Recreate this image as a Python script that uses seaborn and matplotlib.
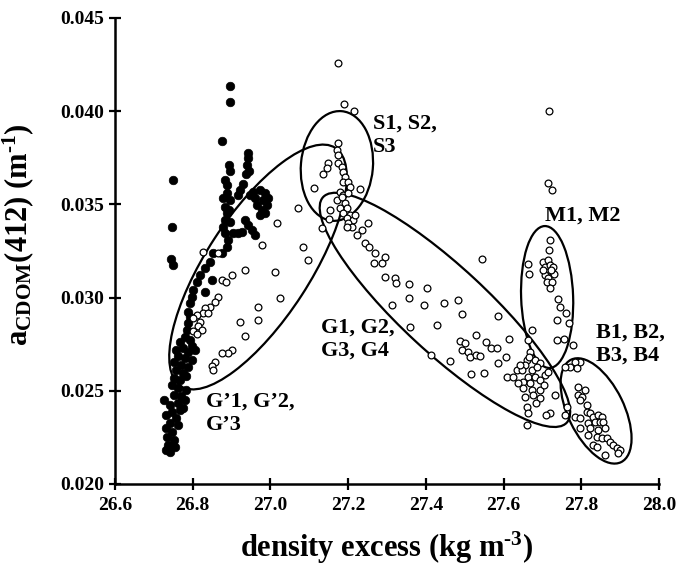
import matplotlib
matplotlib.use("Agg")
import matplotlib.pyplot as plt
from matplotlib.patches import Ellipse
from matplotlib.transforms import Affine2D
from matplotlib.ticker import FormatStrFormatter
import pandas as pd
import seaborn as sns

# ---- surface samples (filled circles) ----
surf_density = [
    26.896, 26.896, 26.875, 26.749, 26.747, 26.744, 26.749,
    26.942, 26.942, 26.940, 26.893, 26.896, 26.945, 26.937, 26.883, 26.888,
    26.929, 26.922, 26.917, 26.888, 26.878, 26.896, 26.883, 26.893, 26.888,
    26.883, 26.896, 26.878, 26.883, 26.891, 26.888, 26.875,
    26.955, 26.973, 26.986, 26.960, 26.981, 26.991, 26.965, 26.978, 26.986,
    26.973, 26.947, 26.994,
    26.935, 26.942, 26.953, 26.960, 26.927, 26.917, 26.904,
    26.852, 26.844, 26.832, 26.819, 26.811, 26.850, 26.801, 26.832, 26.798,
    26.793, 26.788, 26.793, 26.788, 26.785,
    26.780, 26.793, 26.767, 26.798, 26.775, 26.757, 26.788, 26.806, 26.762,
    26.780, 26.798, 26.752, 26.770, 26.788, 26.757, 26.775, 26.752, 26.767,
    26.783, 26.747, 26.762, 26.752, 26.770, 26.726, 26.742, 26.762, 26.775,
    26.747, 26.731, 26.757, 26.742, 26.762, 26.731, 26.747, 26.734, 26.752,
    26.736, 26.731, 26.742, 26.754, 26.767, 26.780, 26.783,
]
surf_acdom = [
    0.04135, 0.04049, 0.03840, 0.03631, 0.03379, 0.03207, 0.03175,
    0.03776, 0.03749, 0.03711, 0.03711, 0.03679, 0.03679, 0.03663, 0.03631, 0.03604,
    0.03610, 0.03577, 0.03550, 0.03561, 0.03534, 0.03524, 0.03486, 0.03470, 0.03454,
    0.03416, 0.03406, 0.03379, 0.03347, 0.03309, 0.03272, 0.03239,
    0.03567, 0.03577, 0.03561, 0.03534, 0.03524, 0.03497, 0.03497, 0.03470, 0.03454,
    0.03443, 0.03550, 0.03534,
    0.03416, 0.03390, 0.03363, 0.03336, 0.03352, 0.03347, 0.03347,
    0.03239, 0.03191, 0.03159, 0.03121, 0.03084, 0.03094, 0.03041, 0.03030, 0.03003,
    0.02971, 0.02923, 0.02896, 0.02864, 0.02826,
    0.02789, 0.02773, 0.02762, 0.02740, 0.02730, 0.02719, 0.02708, 0.02719, 0.02687,
    0.02676, 0.02665, 0.02655, 0.02638, 0.02628, 0.02612, 0.02596, 0.02569, 0.02558,
    0.02580, 0.02531, 0.02515, 0.02477, 0.02472, 0.02451, 0.02424, 0.02435, 0.02408,
    0.02386, 0.02370, 0.02354, 0.02327, 0.02317, 0.02300, 0.02279, 0.02252, 0.02236,
    0.02209, 0.02182, 0.02172, 0.02198, 0.02397, 0.02451, 0.02504,
]

# ---- deeper samples (open circles), grouped by water mass ----
gp_density = [
    26.826, 26.865, 26.875, 26.886, 26.901, 26.935, 27.012, 26.865, 26.857,
    26.844, 26.832, 26.826, 26.839, 26.811, 26.801, 26.819, 26.814, 26.824,
    26.801, 26.811, 27.025, 26.968, 26.968, 26.922, 26.935, 26.901, 26.891,
    26.875, 26.857, 26.850, 26.852, 26.978, 27.017, 27.071, 27.084, 27.097,
]
gp_acdom = [
    0.03245, 0.03239, 0.03094, 0.03084, 0.03121, 0.03148, 0.03137, 0.03003, 0.02976,
    0.02950, 0.02944, 0.02917, 0.02917, 0.02907, 0.02891, 0.02869, 0.02848, 0.02826,
    0.02821, 0.02805, 0.02998, 0.02950, 0.02880, 0.02869, 0.02794, 0.02719, 0.02703,
    0.02703, 0.02655, 0.02633, 0.02612, 0.03282, 0.03400, 0.03481, 0.03271, 0.03202,
]

s_density = [
    27.112, 27.135, 27.133, 27.151, 27.174, 27.189, 27.215, 27.174, 27.171,
    27.174, 27.148, 27.174, 27.146, 27.184, 27.187, 27.192, 27.187, 27.200,
    27.205, 27.230, 27.179, 27.187, 27.171, 27.192, 27.179, 27.197, 27.187,
    27.205, 27.197, 27.212, 27.153, 27.200, 27.210, 27.197, 27.200, 27.184,
    27.218,
]
s_acdom = [
    0.03588, 0.03663, 0.03373, 0.03422, 0.04259, 0.04039, 0.04001, 0.03829, 0.03792,
    0.03765, 0.03722, 0.03722, 0.03695, 0.03701, 0.03674, 0.03647, 0.03620, 0.03620,
    0.03593, 0.03583, 0.03567, 0.03550, 0.03524, 0.03508, 0.03481, 0.03481, 0.03454,
    0.03443, 0.03427, 0.03416, 0.03470, 0.03400, 0.03379, 0.03379, 0.03561, 0.03540,
    0.03443,
]

g_density = [
    27.251, 27.236, 27.223, 27.243, 27.254, 27.269, 27.295, 27.287, 27.266,
    27.295, 27.321, 27.323, 27.357, 27.403, 27.544, 27.313, 27.357, 27.395,
    27.447, 27.483, 27.493, 27.586, 27.359, 27.429, 27.529, 27.488, 27.501,
    27.493, 27.508, 27.514, 27.529, 27.539, 27.555, 27.568, 27.584, 27.614,
    27.606, 27.586, 27.413, 27.462, 27.516, 27.550,
    27.673, 27.663, 27.668, 27.660, 27.655, 27.681, 27.694, 27.634, 27.647,
    27.673, 27.609, 27.624, 27.663, 27.681, 27.707, 27.714, 27.650, 27.668,
    27.694, 27.650, 27.673, 27.694, 27.655, 27.676, 27.694, 27.660, 27.663,
    27.719, 27.709, 27.660, 27.732, 27.642, 27.686, 27.704, 27.637, 27.684,
    27.666,
]
g_acdom = [
    0.03400, 0.03363, 0.03336, 0.03293, 0.03272, 0.03239, 0.03218, 0.03186, 0.03186,
    0.03111, 0.03105, 0.03078, 0.03073, 0.03052, 0.03207, 0.02960, 0.02998, 0.02960,
    0.02971, 0.02987, 0.02912, 0.02901, 0.02842, 0.02853, 0.02800, 0.02767, 0.02756,
    0.02719, 0.02708, 0.02681, 0.02692, 0.02687, 0.02762, 0.02730, 0.02730, 0.02778,
    0.02681, 0.02649, 0.02692, 0.02660, 0.02590, 0.02596,
    0.02826, 0.02773, 0.02708, 0.02665, 0.02638, 0.02665, 0.02649, 0.02612, 0.02612,
    0.02612, 0.02574, 0.02574, 0.02574, 0.02574, 0.02585, 0.02601, 0.02547, 0.02542,
    0.02558, 0.02515, 0.02504, 0.02504, 0.02467, 0.02477, 0.02461, 0.02413, 0.02381,
    0.02381, 0.02370, 0.02317, 0.02477, 0.02638, 0.02628, 0.02531, 0.02542, 0.02435,
    0.02681,
]

m_density = [
    27.717, 27.714, 27.725, 27.719, 27.717, 27.663, 27.665, 27.701, 27.714,
    27.707, 27.719, 27.727, 27.712, 27.707, 27.730, 27.714, 27.712, 27.725,
    27.719, 27.740, 27.745, 27.761, 27.738, 27.768, 27.738, 27.756, 27.779,
    27.701, 27.722,
]
m_acdom = [
    0.04001, 0.03615, 0.03577, 0.03309, 0.03255, 0.03180, 0.03127, 0.03191, 0.03202,
    0.03164, 0.03175, 0.03164, 0.03137, 0.03121, 0.03127, 0.03105, 0.03084, 0.03084,
    0.03052, 0.02993, 0.02950, 0.02918, 0.02880, 0.02864, 0.02773, 0.02778, 0.02746,
    0.03148, 0.03148,
]

b_density = [
    27.797, 27.784, 27.771, 27.789, 27.758, 27.763, 27.758, 27.791, 27.809,
    27.791, 27.802, 27.797, 27.815, 27.784, 27.797, 27.815, 27.822, 27.830,
    27.843, 27.853, 27.835, 27.848, 27.856, 27.817, 27.822, 27.797, 27.843,
    27.861, 27.817, 27.840, 27.853, 27.866, 27.874, 27.882, 27.892, 27.900,
    27.894, 27.830, 27.840, 27.861,
]
b_acdom = [
    0.02655, 0.02655, 0.02628, 0.02622, 0.02628, 0.02413, 0.02370, 0.02520, 0.02504,
    0.02477, 0.02467, 0.02451, 0.02424, 0.02359, 0.02354, 0.02386, 0.02381, 0.02359,
    0.02370, 0.02359, 0.02333, 0.02333, 0.02333, 0.02327, 0.02300, 0.02300, 0.02290,
    0.02300, 0.02263, 0.02252, 0.02247, 0.02247, 0.02225, 0.02209, 0.02193, 0.02182,
    0.02166, 0.02209, 0.02198, 0.02156,
]

# ---- axes ----
x_ticks = [26.6, 26.8, 27.0, 27.2, 27.4, 27.6, 27.8, 28.0]
y_ticks = [0.020, 0.025, 0.030, 0.035, 0.040, 0.045]
XLIM = (26.6, 28.0)
YLIM = (0.020, 0.045)

# ---- water-mass outlines: centre (data), half-axes (screen px), angle (deg) ----
outlines = [
    (26.968, 0.03164, 142, 52, 57.0),    # G'
    (27.171, 0.03706, 55, 36, 85.0),     # S
    (27.449, 0.02934, 166, 43, -42.8),   # G
    (27.712, 0.03003, 71, 26, 92.0),     # M
    (27.838, 0.02392, 57, 28, -64.0),    # B
]
group_labels = ["S1, S2,\nS3", "M1, M2", "G1, G2,\nG3, G4",
                "G\u20191, G\u20192,\nG\u20193", "B1, B2,\nB3, B4"]
label_xy = [(27.264, 0.03985), (27.707, 0.03491), (27.130, 0.02892),
            (26.834, 0.02495), (27.838, 0.02865)]

sns.set_style("ticks")
plt.rcParams["font.family"] = ["Liberation Serif", "DejaVu Serif"]
plt.rcParams["font.weight"] = "bold"
plt.rcParams["text.color"] = "black"
plt.rcParams["axes.labelcolor"] = "black"
plt.rcParams["xtick.color"] = "black"
plt.rcParams["ytick.color"] = "black"
plt.rcParams["axes.edgecolor"] = "black"
plt.rcParams["mathtext.fontset"] = "custom"
plt.rcParams["mathtext.rm"] = "Liberation Serif"
plt.rcParams["mathtext.bf"] = "Liberation Serif:bold"
plt.rcParams["mathtext.it"] = "Liberation Serif:italic"

surf = pd.DataFrame({"density": surf_density, "acdom": surf_acdom})
deep = pd.DataFrame({
    "density": gp_density + s_density + g_density + m_density + b_density,
    "acdom": gp_acdom + s_acdom + g_acdom + m_acdom + b_acdom,
})

fig = plt.figure(figsize=(6.79, 5.65), dpi=100)
ax = fig.add_axes([0.1694, 0.1434, 0.8012, 0.8248])

ax.set_xlim(*XLIM)
ax.set_ylim(*YLIM)

kx = ax.bbox.width / (XLIM[1] - XLIM[0])
ky = ax.bbox.height / (YLIM[1] - YLIM[0])
to_screen = Affine2D().scale(1.0 / kx, 1.0 / ky) + ax.transData
for cx, cy, a, b, ang in outlines:
    ax.add_patch(Ellipse((cx * kx, cy * ky), 2 * a, 2 * b, angle=ang,
                         transform=to_screen, fill=False, edgecolor="black",
                         linewidth=1.6, zorder=1))

sns.scatterplot(data=surf, x="density", y="acdom", ax=ax, color="black",
                edgecolor="black", s=38, linewidth=0.5, zorder=2)
sns.scatterplot(data=deep, x="density", y="acdom", ax=ax, color="white",
                edgecolor="black", s=24, linewidth=0.9, zorder=3)

for txt, (tx, ty) in zip(group_labels, label_xy):
    ax.text(tx, ty, txt, fontsize=16, fontweight="bold", ha="left", va="top",
            linespacing=1.2, color="black", zorder=4)

ax.set_xticks(x_ticks)
ax.set_yticks(y_ticks)
ax.xaxis.set_major_formatter(FormatStrFormatter("%.1f"))
ax.yaxis.set_major_formatter(FormatStrFormatter("%.3f"))
ax.set_xlim(*XLIM)
ax.set_ylim(*YLIM)

sns.despine(ax=ax)
for side in ("left", "bottom"):
    ax.spines[side].set_linewidth(1.8)
    ax.spines[side].set_color("black")
ax.tick_params(direction="inout", length=9, width=1.6, labelsize=14,
               colors="black")
ax.tick_params(axis="y", pad=3)
ax.tick_params(axis="x", pad=5)

ax.set_xlabel("density excess (kg m$^{\\mathbf{\u20103}}$)", fontsize=22,
              fontweight="bold", labelpad=11, color="black")
ax.set_ylabel("a$_{\\mathrm{CDOM}}$(412) (m$^{\\mathbf{\u20101}}$)", fontsize=22,
              fontweight="bold", color="black")
ax.yaxis.set_label_coords(-0.145, 0.536)

fig.savefig("out.png", dpi=100)
